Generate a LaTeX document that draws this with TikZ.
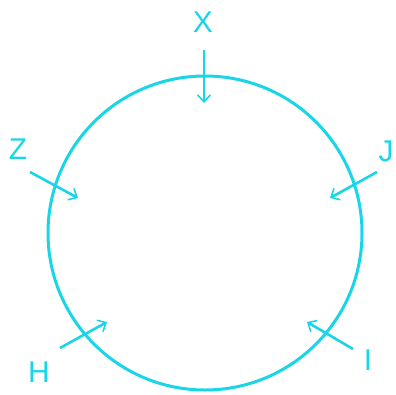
\documentclass[tikz,border=0pt]{standalone}
\usepackage{fontspec}
\setmainfont{Liberation Sans}
\usetikzlibrary{arrows.meta}
\definecolor{cy}{RGB}{24,214,232}
\begin{document}
\begin{tikzpicture}[x=1pt,y=-1pt,
  arr/.style={cy,line width=2.6pt,-{Straight Barb[length=7pt,width=13pt,line width=1.6pt]}},
  lbl/.style={cy,font=\fontsize{30}{30}\selectfont,inner sep=0pt}]
\useasboundingbox (0,0) rectangle (396,394);
\node[draw=cy,line width=3pt,circle,minimum size=314pt,inner sep=0pt] (c) at (205,233) {};
\node[lbl] (X) at (203,22) {X};
\node[lbl] (Z) at (18,149) {Z};
\node[lbl] (J) at (386,151) {J};
\node[lbl] (H) at (39,372) {H};
\node[lbl] (I) at (368,360) {I};
\coordinate (x0) at (204,50); \coordinate (x1) at (204,103);
\coordinate (z0) at (30,172); \coordinate (z1) at (78,198);
\coordinate (j0) at (377,172); \coordinate (j1) at (330,198);
\coordinate (h0) at (60,348); \coordinate (h1) at (107,322);
\coordinate (i0) at (353,349); \coordinate (i1) at (307,322);
\draw[arr] (x0) -- (x1);
\draw[arr] (z0) -- (z1);
\draw[arr] (j0) -- (j1);
\draw[arr] (h0) -- (h1);
\draw[arr] (i0) -- (i1);
\end{tikzpicture}
\end{document}
